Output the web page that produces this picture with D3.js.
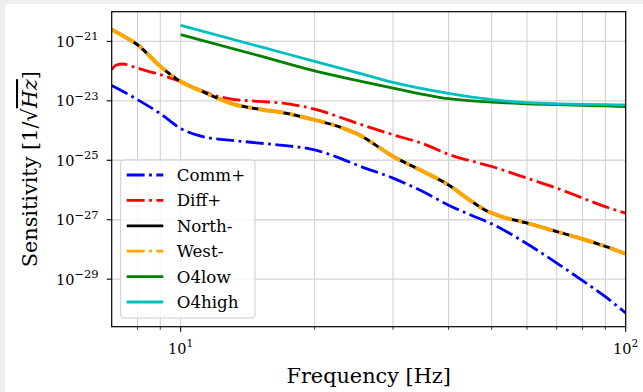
<!DOCTYPE html>
<html>
<head>
<meta charset="utf-8">
<script src="https://cdn.jsdelivr.net/npm/d3@7"></script>
<style>
  body { margin: 0; background: #eeeeee; }
  svg { display: block; }
  text { font-family: "DejaVu Serif", serif; fill: #000; }
</style>
</head>
<body>
<div id="chart"></div>
<script>
// frequencies [Hz] and sensitivities [1/sqrt(Hz)]
const freqDet = [7, 7.5, 8, 9, 10, 11, 12, 13, 15, 17, 20, 23, 25, 30, 35, 40, 45, 48, 52, 60, 70, 80, 90, 100];
const northMinus = [2.51e-21, 1.41e-21, 7.76e-22, 1.45e-22, 4.47e-23, 2.29e-23, 1.29e-23, 8.13e-24, 5.25e-24, 3.98e-24,
  2.29e-24, 1.26e-24, 7.59e-25, 1.35e-25, 4.27e-26, 1.48e-26, 4.17e-27, 2.24e-27, 1.35e-27, 7.76e-28,
  3.98e-28, 2.24e-28, 1.26e-28, 7.08e-29];
const westMinus = northMinus.slice();

const freqComm = [7, 7.5, 8, 9, 10, 11, 12, 13, 15, 17, 20, 23, 25, 30, 35, 40, 45, 50, 60, 70, 80, 90, 100];
const commPlus = [3.31e-23, 1.91e-23, 1.10e-23, 3.72e-24, 1.18e-24, 6.76e-25, 5.25e-25, 4.68e-25, 3.80e-25, 3.16e-25,
  2.24e-25, 1.12e-25, 6.76e-26, 2.51e-26, 8.91e-27, 3.09e-27, 1.41e-27, 7.24e-28, 1.55e-28, 3.47e-29,
  8.91e-30, 2.57e-30, 7.24e-31];

const freqDiff = [7, 7.15, 7.4, 8, 9, 10, 11, 12, 13, 15, 17, 20, 25, 30, 35, 40, 50, 60, 70, 80, 90, 100];
const diffPlus = [1.12e-22, 1.58e-22, 1.74e-22, 1.26e-22, 7.59e-23, 4.47e-23, 2.40e-23, 1.48e-23, 1.15e-23, 9.55e-24,
  8.32e-24, 5.25e-24, 1.74e-24, 7.24e-25, 3.63e-25, 1.58e-25, 6.17e-26, 2.51e-26, 1.15e-26, 5.37e-27,
  2.75e-27, 1.66e-27];

const freqO4 = [10, 15, 20, 25, 30, 40, 50, 60, 70, 80, 90, 100];
const o4low = [1.70e-21, 3.31e-22, 1.02e-22, 4.79e-23, 2.69e-23, 1.18e-23, 9.12e-24, 7.94e-24, 7.41e-24, 7.08e-24, 6.76e-24, 6.46e-24];
const o4high = [3.47e-21, 6.76e-22, 2.14e-22, 8.71e-23, 4.17e-23, 1.78e-23, 1.10e-23, 8.71e-24, 7.94e-24, 7.59e-24, 7.41e-24, 7.24e-24];

const xTickValues = [10, 100];
const xMinorValues = [8, 9, 20, 30, 40, 50, 60, 70, 80, 90];
const yTickExponents = [-21, -23, -25, -27, -29];

const series = [
  { name: 'Comm+', x: freqComm, y: commPlus, color: '#0000ff', width: 2.8, dash: 'dashdot' },
  { name: 'Diff+', x: freqDiff, y: diffPlus, color: '#ff0000', width: 2.8, dash: 'dashdot' },
  { name: 'North-', x: freqDet, y: northMinus, color: '#000000', width: 3, dash: null },
  { name: 'West-', x: freqDet, y: westMinus, color: '#ffa500', width: 4, dash: 'dashdot' },
  { name: 'O4low', x: freqO4, y: o4low, color: '#008000', width: 2.8, dash: null },
  { name: 'O4high', x: freqO4, y: o4high, color: '#00bfbf', width: 2.8, dash: null }
];

const W = 643, H = 392;
const margin = { left: 111.7, right: 17.3, top: 11.7, bottom: 65.3 };
const plotW = W - margin.left - margin.right;
const plotH = H - margin.top - margin.bottom;

function dashFor(dash, w) {
  if (!dash) return null;
  return [6.4 * w, 1.6 * w, 1 * w, 1.6 * w].join(',');
}

const svg = d3.select('#chart').append('svg')
  .attr('width', W)
  .attr('height', H);

// white figure patch on the grey page
svg.append('rect')
  .attr('x', 5).attr('y', 4)
  .attr('width', W - 5).attr('height', H - 4)
  .attr('fill', '#ffffff');

const x = d3.scaleLog().domain([7, 100]).range([0, plotW]);
const y = d3.scaleLog().domain([Math.pow(10, -30.6), 1e-20]).range([plotH, 0]);

const g = svg.append('g')
  .attr('transform', 'translate(' + margin.left + ',' + margin.top + ')');

g.append('clipPath').attr('id', 'clip')
  .append('rect').attr('width', plotW).attr('height', plotH);

// grid
g.append('g').selectAll('line')
  .data(xMinorValues.concat(xTickValues))
  .enter().append('line')
  .attr('x1', d => x(d)).attr('x2', d => x(d))
  .attr('y1', 0).attr('y2', plotH)
  .attr('stroke', '#c8c8c8')
  .attr('stroke-width', 0.9);

g.append('g').selectAll('line')
  .data(yTickExponents)
  .enter().append('line')
  .attr('x1', 0).attr('x2', plotW)
  .attr('y1', d => y(Math.pow(10, d))).attr('y2', d => y(Math.pow(10, d)))
  .attr('stroke', '#d6d6d6')
  .attr('stroke-width', 1.4);

// curves
const line = d3.line()
  .x(d => x(d[0]))
  .y(d => y(d[1]))
  .curve(d3.curveMonotoneX);

const lines = g.append('g').attr('clip-path', 'url(#clip)');
series.forEach(s => {
  lines.append('path')
    .datum(s.x.map((f, i) => [f, s.y[i]]))
    .attr('d', line)
    .attr('fill', 'none')
    .attr('stroke', s.color)
    .attr('stroke-width', s.width)
    .attr('stroke-dasharray', dashFor(s.dash, s.width));
});

// frame
g.append('rect')
  .attr('width', plotW).attr('height', plotH)
  .attr('fill', 'none')
  .attr('stroke', '#000')
  .attr('stroke-width', 1.2);

// x axis
const xAxis = g.append('g').attr('transform', 'translate(0,' + plotH + ')');
xAxis.selectAll('line.major').data(xTickValues).enter().append('line')
  .attr('class', 'major')
  .attr('x1', d => x(d)).attr('x2', d => x(d))
  .attr('y1', 0).attr('y2', 5)
  .attr('stroke', '#000').attr('stroke-width', 1.1);
xAxis.selectAll('line.minor').data(xMinorValues).enter().append('line')
  .attr('class', 'minor')
  .attr('x1', d => x(d)).attr('x2', d => x(d))
  .attr('y1', 0).attr('y2', 3)
  .attr('stroke', '#000').attr('stroke-width', 0.8);
const xLabels = xAxis.selectAll('text').data(xTickValues).enter().append('text')
  .attr('x', d => x(d))
  .attr('y', 27)
  .attr('text-anchor', 'middle')
  .style('font-size', '14.5px');
xLabels.append('tspan').text('10');
xLabels.append('tspan')
  .attr('dy', -6.5)
  .style('font-size', '10.5px')
  .text(d => String(Math.round(Math.log10(d))));

// y axis
const yAxis = g.append('g');
yAxis.selectAll('line').data(yTickExponents).enter().append('line')
  .attr('x1', -5).attr('x2', 0)
  .attr('y1', d => y(Math.pow(10, d))).attr('y2', d => y(Math.pow(10, d)))
  .attr('stroke', '#000').attr('stroke-width', 1.1);
const yLabels = yAxis.selectAll('text').data(yTickExponents).enter().append('text')
  .attr('x', -13)
  .attr('y', d => y(Math.pow(10, d)) + 5.5)
  .attr('text-anchor', 'end')
  .style('font-size', '14.5px');
yLabels.append('tspan').text('10');
yLabels.append('tspan')
  .attr('dy', -6.5)
  .style('font-size', '11.5px')
  .text(d => '\u2212' + Math.abs(d));

// axis titles
svg.append('text')
  .attr('x', margin.left + plotW / 2)
  .attr('y', 383)
  .attr('text-anchor', 'middle')
  .style('font-size', '20.8px')
  .text('Frequency [Hz]');

const yTitle = svg.append('text')
  .attr('transform', 'translate(37,' + (margin.top + plotH / 2) + ') rotate(-90)')
  .attr('text-anchor', 'middle')
  .style('font-size', '20.8px');
yTitle.append('tspan').text('Sensitivity [1/\u221A');
yTitle.append('tspan')
  .style('font-style', 'italic')
  .style('text-decoration', 'overline')
  .text('Hz');
yTitle.append('tspan').text(']');

// legend
const legend = g.append('g').attr('transform', 'translate(9,148.3)');
legend.append('rect')
  .attr('width', 134.3).attr('height', 158)
  .attr('rx', 3).attr('ry', 3)
  .attr('fill', '#ffffff').attr('fill-opacity', 0.8)
  .attr('stroke', '#cccccc').attr('stroke-width', 1);
series.forEach((s, i) => {
  const yy = 15 + i * 25.4;
  legend.append('line')
    .attr('x1', 6).attr('x2', 42.6)
    .attr('y1', yy).attr('y2', yy)
    .attr('stroke', s.color)
    .attr('stroke-width', 2.8)
    .attr('stroke-dasharray', dashFor(s.dash, 2.8));
  legend.append('text')
    .attr('x', 56)
    .attr('y', yy + 6)
    .style('font-size', '16.7px')
    .text(s.name);
});
</script>
</body>
</html>
